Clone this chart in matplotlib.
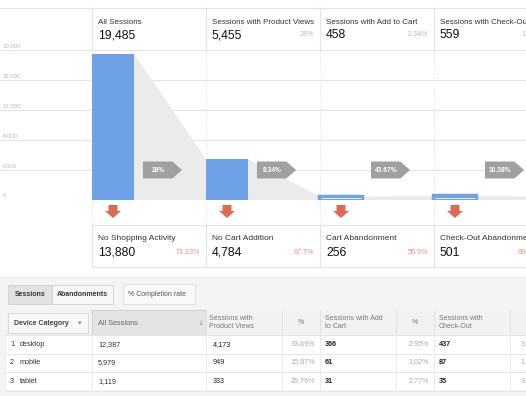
import matplotlib
matplotlib.use("Agg")
import matplotlib.pyplot as plt
from matplotlib.patches import Rectangle, Polygon

plt.rcParams['font.family'] = ['Liberation Sans', 'DejaVu Sans']

# funnel steps
steps = ["All Sessions", "Sessions with Product Views", "Sessions with Add to Cart", "Sessions with Check-Out"]
sessions = [19485, 5455, 458, 559]
step_pct = ["", "28%", "2.34%", "1.87%"]
conversion = ["28%", "8.34%", "43.67%", "10.38%"]

# abandonment boxes
drop_labels = ["No Shopping Activity", "No Cart Addition", "Cart Abandonment", "Check-Out Abandonment"]
drops = [13880, 4784, 256, 501]
drop_pct = ["71.23%", "87.7%", "55.9%", "89.62%"]

# device table
devices = ["desktop", "mobile", "tablet"]
all_sessions = [12387, 5979, 1119]
product_views = [4173, 949, 333]
product_pct = [33.69, 15.87, 29.76]
add_to_cart = [366, 61, 31]
cart_pct = [2.95, 1.02, 2.77]
check_out = [437, 87, 35]
check_out_pct = [3.53, 1.46, 3.13]

W, H = 526, 396
COL0, COLW, BARW = 92, 114, 42
BLUE = '#6fa1e6'
LINE = '#e4e4e4'
RED = '#dc6b55'

fig = plt.figure(figsize=(W / 100, H / 100), dpi=100)
bg = fig.add_axes([0, 0, 1, 1])
bg.set_xlim(0, W)
bg.set_ylim(H, 0)
bg.axis('off')

# ---- header row ----
bg.plot([0, W], [8, 8], color=LINE, lw=0.8)
for i, name in enumerate(steps):
    x = COL0 + i * COLW
    bg.plot([x, x], [8, 50], color=LINE, lw=0.8)
    bg.text(x + 6, 22, name, fontsize=5.8, color='#333', va='center')
    bg.text(x + 6, 35, f"{sessions[i]:,}", fontsize=8.8, color='#111', va='center')
    if step_pct[i]:
        bg.text(x + COLW - 6, 35, step_pct[i], fontsize=5.2, color='#bbb', va='center', ha='right')
    # dotted separators under the chart
    bg.plot([x, x], [200, 225], color='#dcdcdc', lw=0.7, ls=(0, (1, 2)))

# ---- funnel chart ----
ax = fig.add_axes([0, (H - 200) / H, 548 / W, 150 / H], zorder=2)
ax.set_facecolor('none')
ax.set_xlim(-COL0 / COLW, 4)
ax.set_ylim(0, 20000)
w = BARW / COLW
ax.set_yticks(range(0, 20001, 4000))
ax.grid(axis='y', color=LINE, lw=0.8)
ax.set_axisbelow(True)
ax.tick_params(left=False, bottom=False, labelleft=False, labelbottom=False)
for s in ax.spines.values():
    s.set_visible(False)
for t in ax.get_yticks():
    ax.text(-COL0 / COLW + 0.02, t + 250, f"{int(t):,}", fontsize=4.3, color='#bbb', va='bottom')
for i in range(1, 4):
    ax.axvline(i, color='#dcdcdc', lw=0.7, ls=(0, (1, 2)), zorder=0)

for i in range(4):
    nxt = sessions[i + 1] if i < 3 else sessions[i] * 0.8
    ax.add_patch(Polygon([(i + w, sessions[i]), (i + 1, nxt), (i + 1, 0), (i + w, 0)],
                         closed=True, facecolor='#ebebeb', edgecolor='none', zorder=1))
bars = ax.bar(range(4), sessions, width=w, align='edge', color=BLUE, zorder=3)
for i, v in enumerate(sessions):
    if v < 1000:
        # tiny bars get a thicker outline so they stay visible, as in the source
        bars[i].set_edgecolor(BLUE)
        bars[i].set_linewidth(3.2)
        ax.hlines(v * 0.5, i + 0.01, i + w - 0.01, color='white', lw=0.6, zorder=4)

# conversion tags
for i, lab in enumerate(conversion):
    x0, x1, tip = i + 0.447, i + 0.705, i + 0.79
    ax.add_patch(Polygon([(x0, 2870), (x1, 2870), (tip, 4000), (x1, 5130), (x0, 5130)],
                         closed=True, facecolor='#a0a0a0', edgecolor='none', zorder=5))
    ax.text((x0 + x1) / 2 + 0.005, 4000, lab, fontsize=4.8, color='white', fontweight='bold',
            ha='center', va='center', zorder=6)

# ---- abandonment arrows and boxes ----
bg.plot([COL0, W], [225, 225], color=LINE, lw=0.8)
bg.plot([COL0, W], [267, 267], color=LINE, lw=0.8)
for i, name in enumerate(drop_labels):
    x = COL0 + i * COLW
    cx = x + BARW / 2
    bg.add_patch(Polygon([(cx - 4.5, 205), (cx + 4.5, 205), (cx + 4.5, 211), (cx + 8, 211),
                          (cx, 218), (cx - 8, 211), (cx - 4.5, 211)],
                         closed=True, facecolor=RED, edgecolor='none'))
    bg.plot([x, x], [225, 267], color=LINE, lw=0.8)
    bg.text(x + 6, 239, name, fontsize=6.0, color='#333', va='center')
    bg.text(x + 6, 252.5, f"{drops[i]:,}", fontsize=8.8, color='#111', va='center')
    bg.text(x + COLW - 6, 252.5, drop_pct[i], fontsize=5.2, color='#e8927f', va='center', ha='right')

# ---- table area ----
bg.add_patch(Rectangle((0, 277), W, H - 277, facecolor='#f4f4f4', edgecolor='none'))
bg.plot([0, W], [277, 277], color='#ececec', lw=0.8)

# toggle buttons
bg.add_patch(Rectangle((8, 285), 44, 19, facecolor='#e2e2e2', edgecolor='#d4d4d4', lw=0.7))
bg.add_patch(Rectangle((52, 285), 61, 19, facecolor='#f7f7f7', edgecolor='#d4d4d4', lw=0.7))
bg.text(30, 295, "Sessions", fontsize=5.0, color='#333', fontweight='bold', ha='center', va='center')
bg.text(82.5, 295, "Abandonments", fontsize=5.0, color='#333', fontweight='bold', ha='center', va='center')
bg.add_patch(Rectangle((123, 284), 72, 20, facecolor='#f9f9f9', edgecolor='#e0e0e0', lw=0.7))
bg.text(128, 294, "% Completion rate", fontsize=5.0, color='#555', va='center')

# header row
edges = [5, 92, 206, 282, 320, 396, 434, 510, 560]
bg.add_patch(Rectangle((5, 310), W, 25, facecolor='#f2f2f2', edgecolor='none'))
bg.add_patch(Rectangle((92, 310), 114, 25, facecolor='#e4e4e4', edgecolor='#d0d0d0', lw=0.7))
for e in edges[2:]:
    bg.plot([e, e], [310, 335], color='#e2e2e2', lw=0.8)
bg.add_patch(Rectangle((8, 313), 80, 20, facecolor='#f8f8f8', edgecolor='#dadada', lw=0.7))
bg.text(14, 323.5, "Device Category", fontsize=5.0, color='#444', fontweight='bold', va='center')
bg.text(80, 323.5, "▾", fontsize=5.0, color='#888', va='center', ha='center')
bg.text(98, 323.5, "All Sessions", fontsize=5.3, color='#666', va='center')
bg.text(201, 323.5, "↓", fontsize=6, color='#555', va='center', ha='center')
hdr = [(209, "Sessions with\nProduct Views", 'left'), (301, "%", 'center'),
       (325, "Sessions with Add\nto Cart", 'left'), (415, "%", 'center'),
       (439, "Sessions with\nCheck-Out", 'left'), (530, "%", 'center')]
for x, txt, ha in hdr:
    bg.text(x, 322.5, txt, fontsize=5.0, color='#777', va='center', ha=ha, linespacing=1.15)

# data rows
bg.add_patch(Rectangle((5, 335), W, 55, facecolor='white', edgecolor='none'))
for k in range(4):
    y = 335 + k * 18.5
    bg.plot([5, W], [y, y], color='#e6e6e6', lw=0.7)
for e in edges[:-1]:
    bg.plot([e, e], [335, 390.5], color='#ececec', lw=0.7)
for r, dev in enumerate(devices):
    y = 344.5 + r * 18.5
    kw = dict(fontsize=5.2, va='center')
    bg.text(10, y, str(r + 1), color='#333', **kw)
    bg.text(20, y, dev, color='#333', **kw)
    bg.text(98, y, f"{all_sessions[r]:,}", color='#333', **kw)
    bg.text(213, y, f"{product_views[r]:,}", color='#222', **kw)
    bg.text(315, y, f"{product_pct[r]:.2f}%", color='#aaa', ha='right', **kw)
    bg.text(325, y, f"{add_to_cart[r]:,}", color='#222', fontweight='bold', **kw)
    bg.text(429, y, f"{cart_pct[r]:.2f}%", color='#aaa', ha='right', **kw)
    bg.text(439, y, f"{check_out[r]:,}", color='#222', fontweight='bold', **kw)
    bg.text(541, y, f"{check_out_pct[r]:.2f}%", color='#aaa', ha='right', **kw)

fig.savefig('out.png', dpi=100, facecolor='white')
